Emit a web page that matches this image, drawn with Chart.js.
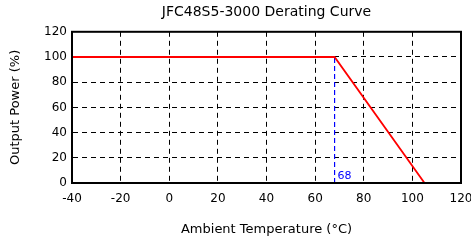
<!DOCTYPE html>
<html lang="en">
<head>
    <meta charset="UTF-8">
    <title>JFC48S5-3000 Derating Curve</title>
    <script src="https://cdn.jsdelivr.net/npm/chart.js"></script>
    <style>
        body { margin: 0; background: #fff; }
        .wrap { width: 471px; height: 245px; }
    </style>
</head>
<body>
    <div class="wrap"><canvas id="derating"></canvas></div>

    <script>
        // data
        const temps = [-40, 68, 105];
        const power = [100, 100, 0];
        const kneeTemp = 68;
        const kneeLine = [0, 100];
        const xTicks = [-40, -20, 0, 20, 40, 60, 80, 100, 120];
        const yTicks = [0, 20, 40, 60, 80, 100, 120];

        const FONT = 'DejaVu Sans';

        // closes the plot box and writes the knee label
        const boxPlugin = {
            id: 'box',
            afterDraw(chart) {
                const { ctx, chartArea: a, scales } = chart;
                ctx.save();
                ctx.strokeStyle = '#000';
                ctx.lineWidth = 2;
                ctx.strokeRect(a.left, a.top, a.right - a.left, a.bottom - a.top);
                ctx.fillStyle = '#0000ff';
                ctx.font = '11px ' + FONT;
                ctx.textBaseline = 'bottom';
                ctx.fillText(String(kneeTemp), scales.x.getPixelForValue(kneeTemp) + 3, a.bottom - 1);
                ctx.restore();
            }
        };

        new Chart(document.getElementById('derating'), {
            type: 'scatter',
            data: {
                datasets: [{
                    data: temps.map((t, i) => ({ x: t, y: power[i] })),
                    showLine: true,
                    borderColor: '#ff0000',
                    borderWidth: 1.8,
                    pointRadius: 0
                }, {
                    data: kneeLine.map(v => ({ x: kneeTemp, y: v })),
                    showLine: true,
                    borderColor: '#0000ff',
                    borderWidth: 1.2,
                    borderDash: [5, 3],
                    pointRadius: 0
                }]
            },
            options: {
                responsive: true,
                maintainAspectRatio: false,
                animation: false,
                layout: { padding: { left: 4, right: 10, top: 0, bottom: 4 } },
                plugins: {
                    legend: { display: false },
                    tooltip: { enabled: false },
                    title: {
                        display: true,
                        fullSize: false,
                        text: 'JFC48S5-3000 Derating Curve',
                        color: '#000',
                        font: { family: FONT, size: 14, weight: 'normal' },
                        padding: { top: 4, bottom: 11 }
                    }
                },
                scales: {
                    x: {
                        type: 'linear',
                        min: -40,
                        max: 120,
                        afterBuildTicks: s => { s.ticks = xTicks.map(v => ({ value: v })); },
                        afterFit: s => { s.height = 58; s.paddingLeft = 0; s.paddingRight = 0; },
                        ticks: { color: '#000', font: { family: FONT, size: 12 }, padding: 9, maxRotation: 0 },
                        grid: { color: '#000', lineWidth: 1, drawTicks: false },
                        border: { color: '#000', width: 2, dash: [5, 4] },
                        title: {
                            display: true,
                            text: 'Ambient Temperature (°C)',
                            color: '#000',
                            font: { family: FONT, size: 13 },
                            padding: { top: 4 }
                        }
                    },
                    y: {
                        min: 0,
                        max: 120,
                        afterBuildTicks: s => { s.ticks = yTicks.map(v => ({ value: v })); },
                        afterFit: s => { s.width = 68; s.paddingTop = 0; s.paddingBottom = 0; },
                        ticks: { color: '#000', font: { family: FONT, size: 12 }, padding: 5 },
                        grid: { color: '#000', lineWidth: 1, drawTicks: false },
                        border: { color: '#000', width: 2, dash: [5, 4] },
                        title: {
                            display: true,
                            text: 'Output Power (%)',
                            color: '#000',
                            font: { family: FONT, size: 13 },
                            padding: { bottom: 4 }
                        }
                    }
                }
            },
            plugins: [boxPlugin]
        });
    </script>
</body>
</html>
